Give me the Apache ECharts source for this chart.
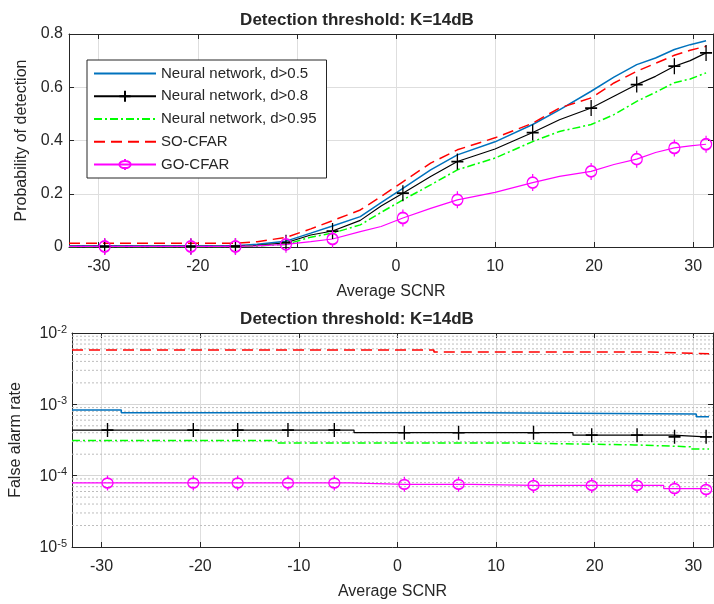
<!DOCTYPE html>
<html>
<head>
<meta charset="utf-8">
<script src="https://cdn.jsdelivr.net/npm/echarts@6/dist/echarts.min.js"></script>
<style>html,body{margin:0;padding:0;background:#fff;}#c{width:714px;height:604px;}</style>
</head>
<body>
<div id="c"></div>
<script>
// ---------- data ----------
const titleText = 'Detection threshold: K=14dB';
const seriesNames = ['Neural network, d>0.5', 'Neural network, d>0.8', 'Neural network, d>0.95', 'SO-CFAR', 'GO-CFAR'];
const xTicks = [-30, -20, -10, 0, 10, 20, 30];
const markerX = [-29.4, -20.7, -16.2, -11.1, -6.4, 0.7, 6.2, 13.8, 19.7, 24.3, 28.1, 31.3];

// top: probability of detection
const xTop   = [-33, -29.4, -20.7, -16.2, -14, -11.1, -8.6, -6.4, -3.6, -1.5, 0.7, 3.5, 6.2, 10, 13.8, 16.5, 19.7, 22, 24.3, 26.2, 28.1, 29.7, 31.3];
const pdNN05 = [0.005, 0.005, 0.005, 0.005, 0.01, 0.022, 0.052, 0.079, 0.114, 0.167, 0.22, 0.29, 0.346, 0.395, 0.46, 0.515, 0.585, 0.638, 0.685, 0.71, 0.742, 0.76, 0.775];
const pdNN08 = [0.002, 0.002, 0.002, 0.003, 0.006, 0.016, 0.045, 0.06, 0.10, 0.154, 0.202, 0.265, 0.321, 0.368, 0.43, 0.478, 0.522, 0.566, 0.61, 0.641, 0.679, 0.70, 0.729];
const pdNN095= [0.002, 0.002, 0.002, 0.002, 0.004, 0.01, 0.037, 0.052, 0.083, 0.13, 0.177, 0.233, 0.29, 0.334, 0.396, 0.434, 0.46, 0.497, 0.547, 0.581, 0.617, 0.631, 0.654];
const pdSO   = [0.014, 0.014, 0.014, 0.014, 0.02, 0.036, 0.068, 0.099, 0.139, 0.19, 0.245, 0.315, 0.365, 0.41, 0.465, 0.522, 0.56, 0.616, 0.66, 0.69, 0.72, 0.739, 0.754];
const pdGO   = [0.002, 0.002, 0.002, 0.002, 0.004, 0.01, 0.02, 0.03, 0.058, 0.077, 0.109, 0.145, 0.177, 0.205, 0.242, 0.265, 0.284, 0.31, 0.33, 0.355, 0.372, 0.38, 0.386];

// bottom: false alarm rate (step curves)
const faNN05X = [-33, -28, 8.8, 30.3, 31.6];
const faNN05Y = [8.3e-4, 7.6e-4, 7.3e-4, 6.7e-4, 6.7e-4];
const faNN08X = [-33, -29.4, -20.7, -16.2, -11.1, -6.4, -4.4, 0.7, 6.2, 13.8, 17.8, 19.7, 24.3, 27.9, 28.1, 31.3, 31.8];
const faNN08Y = [4.35e-4, 4.35e-4, 4.35e-4, 4.35e-4, 4.35e-4, 4.35e-4, 4.0e-4, 4.0e-4, 4.0e-4, 4.0e-4, 3.7e-4, 3.7e-4, 3.7e-4, 3.5e-4, 3.5e-4, 3.5e-4, 3.5e-4];
const faNN095X = [-33, -12.2, 10.7, 24, 29.7, 31.6];
const faNN095Y = [3.1e-4, 2.88e-4, 2.7e-4, 2.54e-4, 2.36e-4, 2.36e-4];
const faSOX = [-33, 3.7, 25.7, 31.6];
const faSOY = [5.8e-3, 5.4e-3, 5.1e-3, 5.1e-3];
const faGOX = [-33, -29.4, -20.7, -16.2, -11.1, -6.4, -4.8, 0.7, 6.2, 7.5, 13.8, 19.7, 24.3, 27, 28.1, 31.3, 31.6];
const faGOY = [7.9e-5, 7.9e-5, 7.9e-5, 7.9e-5, 7.9e-5, 7.9e-5, 7.55e-5, 7.55e-5, 7.55e-5, 7.3e-5, 7.3e-5, 7.3e-5, 7.3e-5, 6.6e-5, 6.6e-5, 6.4e-5, 6.4e-5];
const faMinor = [2e-5,3e-5,4e-5,5e-5,6e-5,7e-5,8e-5,9e-5,2e-4,3e-4,4e-4,5e-4,6e-4,7e-4,8e-4,9e-4,2e-3,3e-3,4e-3,5e-3,6e-3,7e-3,8e-3,9e-3];
const xRange = [-33, 32];

// ---------- styling ----------
const FONT = 'Liberation Sans, Arial, sans-serif';
const TXT = '#262626';
const AX = '#262626';
const CLEAR = 'rgba(0,0,0,0)';
const colors = ['#0072bd', '#000000', '#00ff00', '#ff0000', '#ff00ff'];
const plusSym = 'path://M6,0 L6,16 M0,8 L12,8';
const ringSym = 'path://M5.5,0 L5.5,3 M5.5,14 L5.5,17 M0,8.5 A5.5,5.5 0 1,1 11,8.5 A5.5,5.5 0 1,1 0,8.5';

function pairs(xs, ys, withMarkers) {
  return xs.map((x, i) => {
    const item = { value: [x, ys[i]] };
    if (withMarkers && markerX.indexOf(x) < 0) item.symbol = 'none';
    return item;
  });
}

function xAxes(grid) {
  return [{
    type: 'value', gridIndex: grid, position: 'bottom', min: xRange[0], max: xRange[1],
    name: 'Average SCNR', nameLocation: 'middle', nameGap: 37,
    nameTextStyle: { fontFamily: FONT, fontSize: 16, color: TXT },
    axisLine: { show: true, onZero: false, lineStyle: { color: AX, width: 1 } },
    axisTick: { show: true, inside: true, length: 5, customValues: xTicks, lineStyle: { color: AX } },
    axisLabel: { customValues: xTicks, fontFamily: FONT, fontSize: 16, color: TXT, margin: 12 },
    splitLine: { show: true, lineStyle: { color: '#dedede', width: 1 } }
  }, {
    type: 'value', gridIndex: grid, position: 'top', min: xRange[0], max: xRange[1],
    axisLine: { show: true, onZero: false, lineStyle: { color: AX, width: 1 } },
    axisTick: { show: true, inside: true, length: 5, customValues: xTicks, lineStyle: { color: AX } },
    axisLabel: { show: false }, splitLine: { show: false }
  }];
}

const supFmt = v => '{b|10}{s|' + Math.round(Math.log10(v)) + '}';

// minor grid for log axis: horizontal dotted segments at each minor value
const minorData = [];
faMinor.forEach(v => { minorData.push([xRange[0], v], [xRange[1], v], '-'); });

function plainLine(name, xi, yi, data, color, type, step) {
  return { name, type: 'line', xAxisIndex: xi, yAxisIndex: yi, data, step: step || false,
    symbol: 'circle', showSymbol: false, symbolSize: 1,
    lineStyle: { color, width: 1.5, type: type || 'solid' },
    itemStyle: { color: CLEAR }, emphasis: { disabled: true }, z: 3 };
}
function markedLine(name, xi, yi, data, color, sym, size, step) {
  return { name, type: 'line', xAxisIndex: xi, yAxisIndex: yi, data, step: step || false,
    symbol: sym, symbolSize: size, showSymbol: true,
    lineStyle: { color, width: 1.2 },
    itemStyle: { color: CLEAR, borderColor: color, borderWidth: 1.5 }, emphasis: { disabled: true }, z: 3 };
}

const option = {
  animation: false,
  backgroundColor: '#ffffff',
  textStyle: { fontFamily: FONT },
  title: [
    { text: titleText, left: 'center', top: 12, padding: 0, textStyle: { fontFamily: FONT, fontSize: 17, fontWeight: 'bold', color: TXT } },
    { text: titleText, left: 'center', top: 311, padding: 0, textStyle: { fontFamily: FONT, fontSize: 17, fontWeight: 'bold', color: TXT } }
  ],
  legend: {
    data: seriesNames, orient: 'vertical', left: 87, top: 60,
    padding: [6, 10, 6, 6], itemGap: 7.75, itemWidth: 62, itemHeight: 14,
    borderColor: AX, borderWidth: 1, backgroundColor: '#fff',
    textStyle: { fontFamily: FONT, fontSize: 15, color: TXT }
  },
  grid: [
    { left: 69, right: 1, top: 34, height: 213 },
    { left: 69, right: 1, top: 333, height: 214 }
  ],
  xAxis: [].concat(xAxes(0), xAxes(1)),
  yAxis: [
    { type: 'value', gridIndex: 0, min: 0, max: 0.8, interval: 0.2,
      name: 'Probability of detection', nameLocation: 'middle', nameGap: 37,
      nameTextStyle: { fontFamily: FONT, fontSize: 16, color: TXT },
      axisLine: { show: true, onZero: false, lineStyle: { color: AX } },
      axisTick: { show: true, inside: true, length: 5, lineStyle: { color: AX } },
      axisLabel: { fontFamily: FONT, fontSize: 16, color: TXT, margin: 6 },
      splitLine: { show: true, lineStyle: { color: '#dedede' } } },
    { type: 'value', gridIndex: 0, position: 'right', min: 0, max: 0.8, interval: 0.2,
      axisLine: { show: true, onZero: false, lineStyle: { color: AX } },
      axisTick: { show: true, inside: true, length: 5, lineStyle: { color: AX } },
      axisLabel: { show: false }, splitLine: { show: false } },
    { type: 'log', logBase: 10, gridIndex: 1, min: 1e-5, max: 1e-2,
      name: 'False alarm rate', nameLocation: 'middle', nameGap: 48,
      nameTextStyle: { fontFamily: FONT, fontSize: 16, color: TXT },
      axisLine: { show: true, onZero: false, lineStyle: { color: AX } },
      axisTick: { show: true, inside: true, length: 5, lineStyle: { color: AX } },
      axisLabel: { formatter: supFmt, margin: 5, color: TXT,
        rich: { b: { fontFamily: FONT, fontSize: 16, color: TXT, verticalAlign: 'bottom', lineHeight: 18 },
                s: { fontFamily: FONT, fontSize: 11, color: TXT, verticalAlign: 'top', lineHeight: 18 } } },
      splitLine: { show: true, lineStyle: { color: '#d6d6d6' } } },
    { type: 'log', logBase: 10, gridIndex: 1, position: 'right', min: 1e-5, max: 1e-2,
      axisLine: { show: true, onZero: false, lineStyle: { color: AX } },
      axisTick: { show: true, inside: true, length: 5, lineStyle: { color: AX } },
      axisLabel: { show: false }, splitLine: { show: false } }
  ],
  series: [
    // ---- top plot ----
    plainLine(seriesNames[0], 0, 0, pairs(xTop, pdNN05, false), colors[0]),
    markedLine(seriesNames[1], 0, 0, pairs(xTop, pdNN08, true), colors[1], plusSym, [12, 16]),
    plainLine(seriesNames[2], 0, 0, pairs(xTop, pdNN095, false), colors[2], [8, 3, 2, 3]),
    plainLine(seriesNames[3], 0, 0, pairs(xTop, pdSO, false), colors[3], [11, 6]),
    markedLine(seriesNames[4], 0, 0, pairs(xTop, pdGO, true), colors[4], ringSym, [11, 17]),
    // ---- bottom plot ----
    { name: 'minor-grid', type: 'line', xAxisIndex: 2, yAxisIndex: 2, data: minorData, connectNulls: false,
      symbol: 'none', silent: true, lineStyle: { color: '#bdbdbd', type: [2, 2], width: 1 }, z: 1 },
    plainLine(seriesNames[0], 2, 2, pairs(faNN05X, faNN05Y, false), colors[0], 'solid', 'end'),
    markedLine(seriesNames[1], 2, 2, pairs(faNN08X, faNN08Y, true), colors[1], plusSym, [12, 14], 'end'),
    plainLine(seriesNames[2], 2, 2, pairs(faNN095X, faNN095Y, false), colors[2], [8, 3, 2, 3], 'end'),
    plainLine(seriesNames[3], 2, 2, pairs(faSOX, faSOY, false), colors[3], [11, 6], 'end'),
    markedLine(seriesNames[4], 2, 2, pairs(faGOX, faGOY, true), colors[4], ringSym, [11, 15], 'end')
  ]
};

const chart = echarts.init(document.getElementById('c'), null, { renderer: 'canvas' });
chart.setOption(option);
</script>
</body>
</html>
